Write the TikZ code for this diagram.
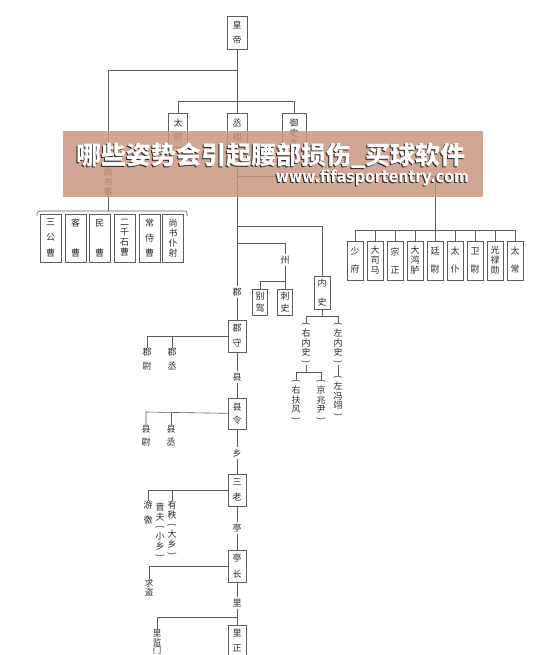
\documentclass[tikz,border=0pt]{standalone}
\usepackage{fontspec}
\usepackage{graphicx}
\newfontfamily\cjk{Noto Sans CJK SC}
\setsansfont{DejaVu Sans}

\definecolor{ink}{HTML}{5C5C5C}
\definecolor{txt}{HTML}{2A2A2A}
\definecolor{banner}{HTML}{C8957E}

% vertical brackets
\newcommand{\vpl}{\rotatebox[origin=c]{-90}{(}}
\newcommand{\vpr}{\rotatebox[origin=c]{-90}{)}}

\begin{document}
\begin{tikzpicture}
  [x=1pt, y=-1pt, line width=0.6pt, color=ink,
   lsk/.style={font=\cjk\fontsize{9}{#1}\selectfont},
   box/.style={draw=ink, fill=white, inner sep=0pt, align=center, text=txt},
   lbl/.style={inner sep=0pt, align=center, text=txt, lsk=#1},
   lbl/.default=10,
   onln/.style={fill=white, inner sep=1.5pt, text=txt, lsk=10}]
  \useasboundingbox (0,0) rectangle (545,655);
  \clip (0,0) rectangle (545,655);

  \node [box, minimum width=20, minimum height=33, lsk=15] (emperor) at (237,32.5) {皇\\帝};

  % three lords
  \coordinate (jA) at (237,70);
  \coordinate (jAl) at (108,70);
  \coordinate (jB) at (237,101);
  \coordinate (jBl) at (178,101);
  \coordinate (jBr) at (294,101);
  \node [box, minimum width=19, minimum height=34, lsk=14] (taiwei) at (178,130) {太\\尉};
  \node [box, minimum width=20, minimum height=34, lsk=14] (chengxiang) at (237,130) {丞\\相};
  \node [box, minimum width=24, minimum height=49, lsk=9.7] (yushi) at (294,137.5) {御\\史\\大\\夫};

  % shangshu branch
  \node [lbl, fill=white] (shangshu) at (108,182) {尚\\书\\事};
  \coordinate (sbr) at (108,211);
  \node [box, minimum width=21, minimum height=48, lsk=15.5] (sangong) at (50.5,238) {三\\公\\曹};
  \node [box, minimum width=21, minimum height=48, lsk=30] (kecao) at (75.5,238) {客\\曹};
  \node [box, minimum width=21, minimum height=48, lsk=30] (mincao) at (99.5,238) {民\\曹};
  \node [box, minimum width=21, minimum height=48, lsk=10] (erqian) at (124.5,238) {二\\千\\石\\曹};
  \node [box, minimum width=21, minimum height=48, lsk=15] (changshi) at (149.5,238) {常\\侍\\曹};
  \node [box, minimum width=21, minimum height=48, lsk=10] (puye) at (173,238) {尚\\书\\仆\\射};

  % nine ministers
  \coordinate (jC) at (237,176);
  \coordinate (jCr) at (435,176);
  \coordinate (q1t) at (355,230);
  \coordinate (q2t) at (375,230);
  \coordinate (q3t) at (395,230);
  \coordinate (q4t) at (415,230);
  \coordinate (q5t) at (435,230);
  \coordinate (q6t) at (455,230);
  \coordinate (q7t) at (475,230);
  \coordinate (q8t) at (495,230);
  \coordinate (q9t) at (515,230);
  \node [box, minimum width=16, minimum height=39, lsk=18] (q1) at (355,260.5) {少\\府};
  \node [box, minimum width=16, minimum height=39, lsk=10] (q2) at (375,260.5) {大\\司\\马};
  \node [box, minimum width=16, minimum height=39, lsk=18] (q3) at (395,260.5) {宗\\正};
  \node [box, minimum width=16, minimum height=39, lsk=10] (q4) at (415,260.5) {大\\鸿\\胪};
  \node [box, minimum width=16, minimum height=39, lsk=18] (q5) at (435,260.5) {廷\\尉};
  \node [box, minimum width=16, minimum height=39, lsk=18] (q6) at (455,260.5) {太\\仆};
  \node [box, minimum width=16, minimum height=39, lsk=18] (q7) at (475,260.5) {卫\\尉};
  \node [box, minimum width=16, minimum height=39, lsk=10] (q8) at (495,260.5) {光\\禄\\勋};
  \node [box, minimum width=16, minimum height=39, lsk=18] (q9) at (515,260.5) {太\\常};

  % zhou
  \coordinate (jE) at (237,243);
  \coordinate (jEr) at (285,243);
  \node [onln] (zhou) at (285,260) {州};
  \coordinate (jF) at (285,281);
  \coordinate (jFl) at (260,281);
  \node [box, minimum width=15, minimum height=26, lsk=12] (biejia) at (260,302.5) {别\\驾};
  \node [box, minimum width=15, minimum height=26, lsk=12] (cishi) at (285,302.5) {刺\\史};

  % neishi
  \coordinate (jD) at (237,226);
  \coordinate (jDr) at (322,226);
  \node [box, minimum width=16, minimum height=33, lsk=19] (neishi) at (322,292.5) {内\\史};
  \coordinate (jG) at (322,316);
  \coordinate (jGl) at (306,316);
  \coordinate (jGr) at (338,316);
  \node [lbl=9.5] (younei) at (306,344) {\vpl\\右\\内\\史\\\vpr};
  \node [lbl=9.5] (zuonei) at (338,344) {\vpl\\左\\内\\史\\\vpr};
  \coordinate (jH) at (306,372);
  \coordinate (jHl) at (296,372);
  \coordinate (jHr) at (321,372);
  \node [lbl=9.5] (youfu) at (296,401) {\vpl\\右\\扶\\风\\\vpr};
  \node [lbl=9.5] (jingzhao) at (321,401) {\vpl\\京\\兆\\尹\\\vpr};
  \node [lbl=9.5] (zuofeng) at (338,397) {\vpl\\左\\冯\\翊\\\vpr};

  % main chain
  \node [onln] (jun) at (237,292) {郡};
  \node [box, minimum width=18, minimum height=32, lsk=15] (junshou) at (237,336) {郡\\守};
  \node [onln] (xian) at (237,377) {县};
  \node [box, minimum width=18, minimum height=31, lsk=13] (xianling) at (237,413.5) {县\\令};
  \node [onln] (xiang) at (237,453) {乡};
  \node [box, minimum width=18, minimum height=32, lsk=15] (sanlao) at (237,490) {三\\老};
  \node [onln] (ting) at (237,528) {亭};
  \node [box, minimum width=18, minimum height=32, lsk=16] (tingzhang) at (237,566) {亭\\长};
  \node [onln] (li) at (237,603) {里};
  \node [box, minimum width=18, minimum height=31, lsk=15] (lizheng) at (237,640.5) {里\\正};

  % side officials
  \coordinate (jJ) at (147,336);
  \coordinate (jJ2) at (172,336);
  \node [lbl=14] (junwei) at (147,359) {郡\\尉};
  \node [lbl=14] (juncheng) at (172,359) {郡\\丞};
  \coordinate (jK) at (146,412);
  \coordinate (jK2) at (171,412);
  \node [lbl=13] (xianwei) at (146,435.5) {县\\尉};
  \node [lbl=13] (xiancheng) at (171,435.5) {县\\丞};
  \coordinate (jL) at (148,490);
  \coordinate (jL2) at (172,490);
  \node [lbl=15] (youjiao) at (148,512.5) {游\\徼};
  \node [lbl=9.6] (youzhi) at (172,529) {有\\秩\\\vpl\\大\\乡\\\vpr};
  \node [lbl=9.6] (sefu) at (160,531) {啬\\夫\\\vpl\\小\\乡\\\vpr};
  \coordinate (jM) at (149,566);
  \node [lbl, font=\cjk\fontsize{8.5}{9.5}\selectfont] (qiudao) at (149,587.5) {求\\盗};
  \coordinate (jN) at (237,617);
  \coordinate (jNl) at (157,617);
  \node [lbl, font=\cjk\fontsize{8.5}{8.7}\selectfont] (limen) at (157,642) {里\\监\\门};

  % emperor to lords
  \draw (emperor) -- (chengxiang);
  \draw (jA) -- (jAl) -- (shangshu) -- (sbr);
  \draw (jBl) -- (jBr);
  \draw (jBl) -- (taiwei);
  \draw (jBr) -- (yushi);

  % shangshu bracket
  \draw (37,216) .. controls (37,212) .. (41,211) -- (183,211) .. controls (187,211) .. (187,216);

  % chancellor to ministers
  \draw (jC) -- (jCr) -- (q5t);
  \draw (q1t) -- (q9t);
  \draw (q1t) -- (q1);
  \draw (q2t) -- (q2);
  \draw (q3t) -- (q3);
  \draw (q4t) -- (q4);
  \draw (q5t) -- (q5);
  \draw (q6t) -- (q6);
  \draw (q7t) -- (q7);
  \draw (q8t) -- (q8);
  \draw (q9t) -- (q9);

  % zhou and neishi
  \draw (jE) -- (jEr) -- (zhou) -- (cishi);
  \draw (jF) -- (jFl) -- (biejia);
  \draw (jD) -- (jDr) -- (neishi);
  \draw (neishi) -- (jG);
  \draw (jGl) -- (jGr);
  \draw (jGl) -- (younei);
  \draw (jGr) -- (zuonei);
  \draw (younei) -- (jH);
  \draw (jHl) -- (jHr);
  \draw (jHl) -- (youfu);
  \draw (jHr) -- (jingzhao);
  \draw (zuonei) -- (zuofeng);

  % main chain
  \draw (chengxiang) -- (jun) -- (junshou) -- (xian) -- (xianling) -- (xiang)
        -- (sanlao) -- (ting) -- (tingzhang) -- (li) -- (lizheng);

  % local officials
  \draw (junshou) -- (jJ) -- (junwei);
  \draw (jJ2) -- (juncheng);
  \draw (xianling) -- (jK) -- (xianwei);
  \draw (jK2) -- (xiancheng);
  \draw (sanlao) -- (jL) -- (youjiao);
  \draw (jL2) -- (youzhi);
  \draw (tingzhang) -- (jM) -- (qiudao);
  \draw (jN) -- (jNl) -- (limen);

  % overlay banner
  \fill [banner, opacity=0.84] (63,131) rectangle (483,197);
  \node [inner sep=0pt, text=black!85, font=\cjk\bfseries\fontsize{25}{25}\selectfont] (ttlsh) at (269.8,156.7) {哪些姿势会引起腰部损伤\_买球软件};
  \node [inner sep=0pt, text=white, font=\cjk\bfseries\fontsize{25}{25}\selectfont] (ttl) at (271,155.5) {哪些姿势会引起腰部损伤\_买球软件};
  \node [inner sep=0pt, text=black!85, font=\sffamily\bfseries] (urlsh) at (371.5,179) {\resizebox{193pt}{12.5pt}{www.fifasportentry.com}};
  \node [inner sep=0pt, text=white, font=\sffamily\bfseries] (url) at (372.5,178) {\resizebox{193pt}{12.5pt}{www.fifasportentry.com}};
\end{tikzpicture}
\end{document}
